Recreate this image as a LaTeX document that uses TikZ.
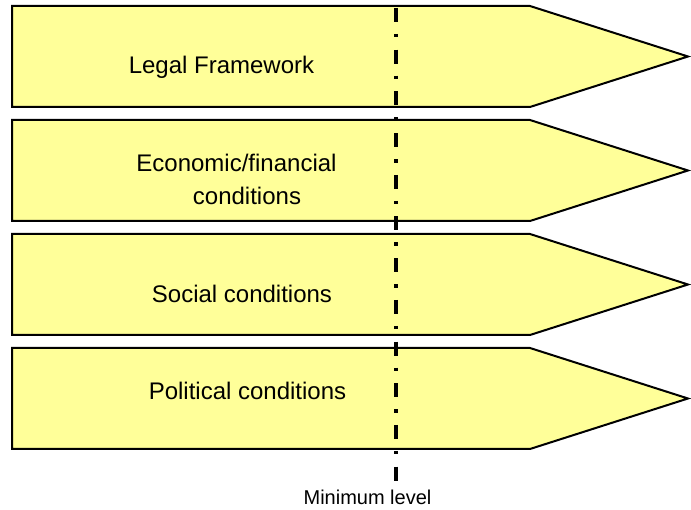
\documentclass[tikz,border=0pt]{standalone}
\usepackage{fontspec}
\setmainfont{Liberation Sans}
\usetikzlibrary{positioning}
\definecolor{paleyellow}{HTML}{FFFF99}

\begin{document}
\begin{tikzpicture}[x=1pt,y=-1pt,
  band/.style={draw=black,line width=2pt,fill=paleyellow},
  lbl/.style={anchor=base,inner sep=0pt,font=\fontsize{24}{33}\selectfont},
  minline/.style={line width=3.5pt,dash pattern=on 14pt off 12pt on 3.5pt off 12.2pt}]
\useasboundingbox (0,0) rectangle (691,510);
% Draw the four bands
\foreach \t in {6,120,234,348}{
  \draw[band] (12,\t) -- (530,\t) -- (688,\t+50.5) -- (530,\t+101) -- (12,\t+101) -- cycle;
}
% Give names to the various conditions
\node[lbl] (legal)  at (221.5,74)  {Legal Framework};
\node[lbl] (econ)   at (236.5,172) {Economic/financial};
\node[lbl] (econb)  at (247,205)   {conditions};
\node[lbl] (social) at (242,303)   {Social conditions};
\node[lbl] (polit)  at (247.5,400) {Political conditions};
% The minimum level line
\coordinate (mtop) at (396,8);
\coordinate (mbot) at (396,482);
\draw[minline] (mtop) -- (mbot);
\node[lbl,font=\fontsize{20}{24}\selectfont] (minlevel) at (367.5,504.7) {Minimum level};
\end{tikzpicture}
\end{document}
